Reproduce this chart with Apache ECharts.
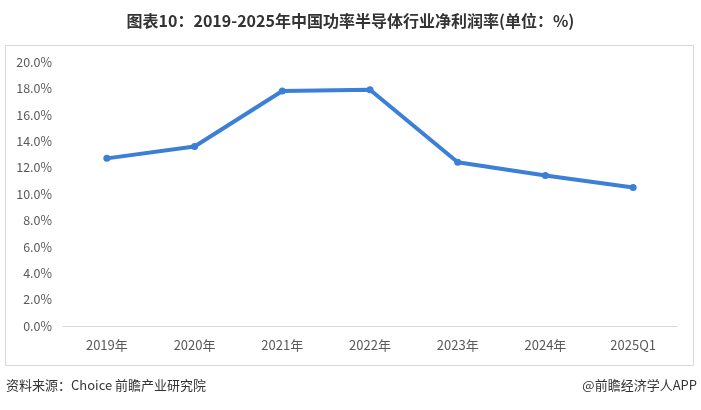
<!DOCTYPE html>
<html><head><meta charset="utf-8">
<script src="https://cdn.jsdelivr.net/npm/echarts@6/dist/echarts.min.js"></script>
<style>html,body{margin:0;padding:0;background:#fff;}#c{width:701px;height:410px;}</style>
</head><body><div id="c"></div>
<script>
const categories = ['2019年','2020年','2021年','2022年','2023年','2024年','2025Q1'];
const netMargin = [12.7, 13.6, 17.8, 17.9, 12.4, 11.4, 10.5];
const yTicks = {min: 0, max: 20, interval: 2};
const titleText = '图表10：2019-2025年中国功率半导体行业净利润率(单位：%)';
const sourceText = '资料来源：Choice 前瞻产业研究院';
const brandText = '@前瞻经济学人APP';

const chart = echarts.init(document.getElementById('c'), null, {renderer:'canvas'});
chart.setOption({
  animation: false,
  backgroundColor: '#fff',
  title: {
    text: titleText, left: 'center', top: 8,
    textStyle: {fontFamily: 'Noto Sans CJK SC', fontSize: 16, fontWeight: 'bold', color: '#333'}
  },
  graphic: [
    {type: 'rect', shape: {x: 5.5, y: 45.5, width: 688, height: 320}, style: {fill: 'none', stroke: '#d9d9d9', lineWidth: 1}, z: -1},
    {type: 'text', left: 6, top: 379, style: {text: sourceText, fontFamily: 'Noto Sans CJK SC', fontSize: 13, fill: '#333'}},
    {type: 'text', right: 4, top: 379, style: {text: brandText, fontFamily: 'Noto Sans CJK SC', fontSize: 13, fill: '#333'}}
  ],
  grid: {left: 63, right: 24, top: 62, bottom: 84},
  xAxis: {
    type: 'category', data: categories, boundaryGap: true,
    axisLine: {lineStyle: {color: '#d9d9d9'}},
    axisTick: {show: false},
    axisLabel: {color: '#595959', fontSize: 13, margin: 13, fontFamily: 'Noto Sans CJK SC'}
  },
  yAxis: {
    type: 'value', min: yTicks.min, max: yTicks.max, interval: yTicks.interval,
    splitLine: {show: false}, axisLine: {show: false}, axisTick: {show: false},
    axisLabel: {color: '#595959', fontSize: 12.5, margin: 11, fontFamily: 'Noto Sans CJK SC',
      formatter: v => v.toFixed(1) + '%'}
  },
  series: [{
    type: 'line', data: netMargin,
    symbol: 'circle', symbolSize: 7,
    lineStyle: {color: '#3c7fd6', width: 4},
    itemStyle: {color: '#3c7fd6'}
  }]
});
</script></body></html>
